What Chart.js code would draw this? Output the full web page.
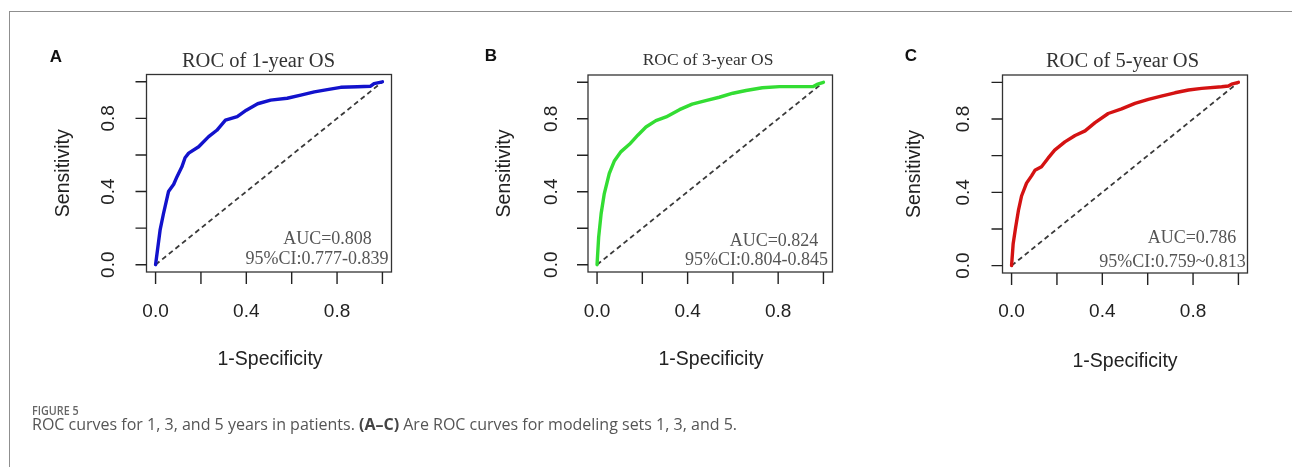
<!DOCTYPE html>
<html><head><meta charset="utf-8">
<script src="https://cdn.jsdelivr.net/npm/chart.js@4.4.1/dist/chart.umd.min.js"></script>
<style>
html,body{margin:0;padding:0;background:#fff;width:1292px;height:467px;overflow:hidden;position:relative}
canvas{position:absolute;left:0;top:0}
#frameTop{position:absolute;left:9px;top:11px;width:1283px;height:0;border-top:1.5px solid #8f8f8f}
#frameLeft{position:absolute;left:9px;top:11px;width:0;height:456px;border-left:1.5px solid #8f8f8f}
#figlabel{position:absolute;left:32px;top:402px;font:600 12.5px/18px "Open Sans";color:#666;transform:scaleX(0.86);transform-origin:left center;white-space:nowrap}
#caption{position:absolute;left:32px;top:413px;font:400 16px/22px "Open Sans";color:#555;white-space:nowrap}
#caption b{font-weight:700;color:#444}
</style></head>
<body>
<div id="frameTop"></div><div id="frameLeft"></div>
<canvas id="cA" width="1292" height="467"></canvas>
<canvas id="cB" width="1292" height="467"></canvas>
<canvas id="cC" width="1292" height="467"></canvas>
<div id="figlabel">FIGURE 5</div>
<div id="caption">ROC curves for 1, 3, and 5 years in patients. <b>(A–C)</b> Are ROC curves for modeling sets 1, 3, and 5.</div>
<script>
// ---- data ----
const fprA = [0,0.02,0.035,0.057,0.08,0.094,0.116,0.13,0.146,0.19,0.234,0.27,0.308,0.36,0.40,0.45,0.507,0.58,0.64,0.70,0.757,0.816,0.89,0.948,0.963,1];
const tprA = [0,0.19,0.28,0.40,0.44,0.48,0.535,0.585,0.61,0.645,0.70,0.735,0.79,0.81,0.845,0.88,0.90,0.91,0.927,0.945,0.957,0.97,0.973,0.976,0.99,1];
const fprB = [0,0.007,0.018,0.032,0.054,0.077,0.106,0.143,0.18,0.216,0.26,0.305,0.364,0.42,0.48,0.54,0.60,0.658,0.73,0.806,0.88,0.953,0.975,1];
const tprB = [0,0.15,0.28,0.39,0.50,0.57,0.62,0.66,0.71,0.755,0.79,0.81,0.85,0.88,0.90,0.918,0.94,0.955,0.97,0.976,0.976,0.976,0.99,1];
const fprC = [0,0.007,0.018,0.03,0.044,0.066,0.088,0.103,0.132,0.16,0.19,0.235,0.28,0.324,0.368,0.426,0.485,0.544,0.603,0.66,0.72,0.78,0.838,0.926,0.956,0.97,1];
const tprC = [0,0.12,0.21,0.30,0.38,0.45,0.49,0.52,0.54,0.585,0.63,0.675,0.71,0.735,0.78,0.83,0.855,0.885,0.907,0.925,0.943,0.958,0.967,0.976,0.98,0.99,1];
const diagX = [0,1];
const diagY = [0,1];
const tickValues = [0,0.2,0.4,0.6,0.8,1.0];
const tickLabels = ["0.0","","0.4","","0.8",""];
const titles = ["ROC of 1-year OS","ROC of 3-year OS","ROC of 5-year OS"];
const panelLetters = ["A","B","C"];
const aucLines = ["AUC=0.808","AUC=0.824","AUC=0.786"];
const ciLines = ["95%CI:0.777-0.839","95%CI:0.804-0.845","95%CI:0.759~0.813"];
const xTitle = "1-Specificity";
const yTitle = "Sensitivity";

// ---- layout per panel ----
const panels = [
  {id:'cA', fpr:fprA, tpr:tprA, color:'#1212cc', box:[146.5,74.5,391.5,272],
   letter:[56,57], title:[258.5,62,20.5], auc:[327.5,239], ci:[317,259],
   ylab:108.5, ytit:63.5, xlabY:311.5, xtit:[270,360]},
  {id:'cB', fpr:fprB, tpr:tprB, color:'#33dd33', box:[588,75,832.5,272],
   letter:[491,56], title:[708,60,17.5], auc:[774,241.5], ci:[756.5,260],
   ylab:551.5, ytit:505, xlabY:311.5, xtit:[711,360]},
  {id:'cC', fpr:fprC, tpr:tprC, color:'#d41212', box:[1002.5,75,1247.5,273],
   letter:[911,56], title:[1122.5,62,20.5], auc:[1192,238.5], ci:[1172.5,262.5],
   ylab:964, ytit:915, xlabY:311.5, xtit:[1125,361.5]}
];

const rPlot = {
  id:'rPlot',
  afterDraw(chart, args, o){
    const p = o.p, ctx = chart.ctx, xs = chart.scales.x, ys = chart.scales.y, a = chart.chartArea;
    ctx.save();
    // box
    ctx.strokeStyle = '#333'; ctx.lineWidth = 1.3;
    ctx.strokeRect(a.left, a.top, a.right-a.left, a.bottom-a.top);
    // ticks
    ctx.beginPath();
    tickValues.forEach(v=>{
      const px = xs.getPixelForValue(v);
      ctx.moveTo(px, a.bottom); ctx.lineTo(px, a.bottom+12);
      const py = ys.getPixelForValue(v);
      ctx.moveTo(a.left, py); ctx.lineTo(a.left-11, py);
    });
    ctx.strokeStyle = '#222'; ctx.lineWidth = 1.4; ctx.stroke();
    // tick labels
    ctx.fillStyle = '#222'; ctx.font = '19px "Liberation Sans", Arial, sans-serif';
    ctx.textAlign = 'center'; ctx.textBaseline = 'middle';
    tickValues.forEach((v,i)=>{
      if(!tickLabels[i]) return;
      ctx.fillText(tickLabels[i], xs.getPixelForValue(v), p.xlabY);
      ctx.save(); ctx.translate(p.ylab, ys.getPixelForValue(v)); ctx.rotate(-Math.PI/2);
      ctx.fillText(tickLabels[i], 0, 0); ctx.restore();
    });
    // axis titles
    ctx.font = '19.5px "Liberation Sans", Arial, sans-serif';
    ctx.fillText(xTitle, p.xtit[0], p.xtit[1]);
    ctx.save(); ctx.translate(p.ytit, (a.top+a.bottom)/2); ctx.rotate(-Math.PI/2);
    ctx.fillText(yTitle, 0, 0); ctx.restore();
    // title
    ctx.fillStyle = '#333'; ctx.font = p.title[2]+'px "Liberation Serif", "Times New Roman", serif';
    ctx.fillText(titles[o.i], p.title[0], p.title[1]);
    // AUC text
    ctx.fillStyle = '#555'; ctx.font = '18px "Liberation Serif", "Times New Roman", serif';
    ctx.fillText(aucLines[o.i], p.auc[0], p.auc[1]);
    ctx.fillText(ciLines[o.i], p.ci[0], p.ci[1]);
    // panel letter
    ctx.fillStyle = '#111'; ctx.font = 'bold 17px "Liberation Sans", Arial, sans-serif';
    ctx.fillText(panelLetters[o.i], p.letter[0], p.letter[1]);
    ctx.restore();
  }
};

panels.forEach((p,i)=>{
  const W = 1292, H = 467;
  new Chart(document.getElementById(p.id), {
    type:'scatter',
    data:{datasets:[
      {data:p.fpr.map((x,k)=>({x:x,y:p.tpr[k]})), showLine:true, borderColor:p.color,
       borderWidth:3.4, pointRadius:0, tension:0, borderJoinStyle:'round', borderCapStyle:'round', order:1},
      {data:diagX.map((x,k)=>({x:x,y:diagY[k]})), showLine:true, borderColor:'#3a3a3a',
       borderWidth:1.8, borderDash:[5,3.5], pointRadius:0, order:2}
    ]},
    options:{
      responsive:false, animation:false, devicePixelRatio:1,
      layout:{padding:{left:p.box[0], top:p.box[1], right:W-p.box[2], bottom:H-p.box[3]}},
      plugins:{legend:{display:false}, tooltip:{enabled:false}, rPlot:{p:p, i:i}},
      scales:{
        x:{type:'linear', min:-0.04, max:1.04, display:false},
        y:{type:'linear', min:-0.04, max:1.04, display:false}
      }
    },
    plugins:[rPlot]
  });
});
</script>
</body></html>
